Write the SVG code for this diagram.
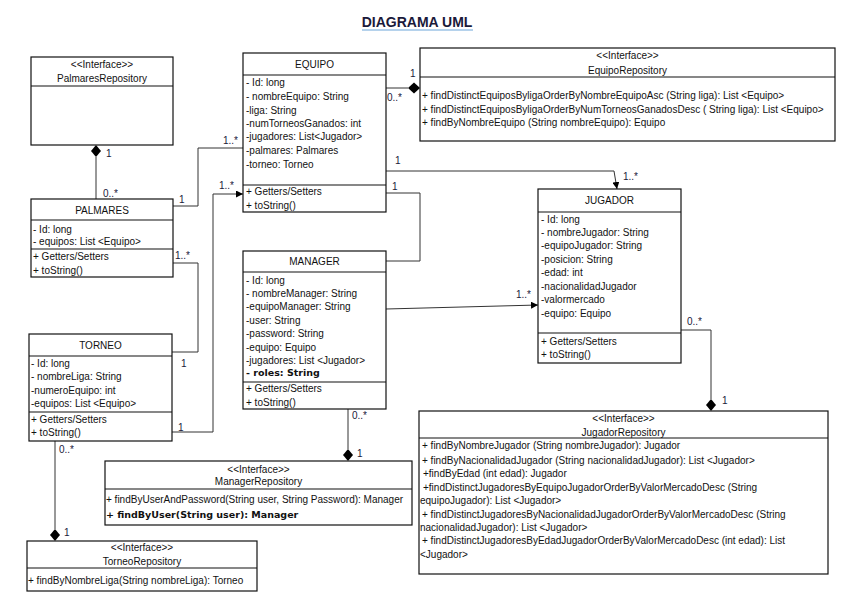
<svg xmlns="http://www.w3.org/2000/svg" width="847" height="599" viewBox="0 0 847 599">
<style>
text{font-family:"Liberation Sans",Arial,sans-serif;font-size:10px;fill:#111}
.c{text-anchor:middle}
.b{font-family:"DejaVu Sans",sans-serif;font-weight:bold;font-size:9.5px}
.box{fill:#fff;stroke:#111;stroke-width:1.2}
.sep{stroke:#111;stroke-width:1.2}
.ln{fill:none;stroke:#333;stroke-width:1}
.dia{fill:#000}
.lab{font-size:10px;fill:#1a1a3a}
.title{font-size:14px;font-weight:bold;fill:#1a1a3a}
</style>
<defs>
<marker id="arr" viewBox="0 0 10 10" refX="10" refY="5" markerWidth="7" markerHeight="7" orient="auto" markerUnits="userSpaceOnUse">
<path d="M0,0 L10,5 L0,10 z" fill="#000"/>
</marker>
</defs>
<rect width="847" height="599" fill="#fff"/>
<text class="title c" x="417" y="27">DIAGRAMA UML</text>
<line x1="362" y1="30" x2="473" y2="30" stroke="#9dc3e6" stroke-width="1.5"/>

<g id="connectors">
<polyline class="ln" points="96,157 96,199"/>
<polygon class="dia" points="96,145 101,151 96,157 91,151"/>
<polyline class="ln" points="386,88 408,88"/>
<polygon class="dia" points="408,88 414,82.5 420,88 414,93.5"/>
<polyline class="ln" points="386,171 614,171 617,189" marker-end="url(#arr)"/>
<polyline class="ln" points="386,193 420,193 420,261 386,261"/>
<polyline class="ln" points="386,309 538,305" marker-end="url(#arr)"/>
<polyline class="ln" points="681,330 711,330 711,399"/>
<polygon class="dia" points="711,399 716,405 711,411 706,405"/>
<polyline class="ln" points="173,206 198,206 198,148 243,148"/>
<polyline class="ln" points="172,432 213,432 213,194 243,194" marker-end="url(#arr)"/>
<polyline class="ln" points="173,263 198,263 198,352 172,352"/>
<polyline class="ln" points="55,441 55,529"/>
<polygon class="dia" points="55,529 60,535 55,541 50,535"/>
<polyline class="ln" points="348,409 348,449"/>
<polygon class="dia" points="348,449 353,455 348,461 343,455"/>
<text class="lab" x="106" y="157">1</text>
<text class="lab" x="103" y="197">0..*</text>
<text class="lab" x="410" y="77">1</text>
<text class="lab" x="387" y="101">0..*</text>
<text class="lab" x="395" y="164">1</text>
<text class="lab" x="623" y="180">1..*</text>
<text class="lab" x="392" y="190">1</text>
<text class="lab" x="223" y="144">1..*</text>
<text class="lab" x="179" y="203">1</text>
<text class="lab" x="219" y="188.5">1..*</text>
<text class="lab" x="175" y="259">1..*</text>
<text class="lab" x="181" y="367">1</text>
<text class="lab" x="178" y="431">1</text>
<text class="lab" x="516" y="298">1..*</text>
<text class="lab" x="687" y="325">0..*</text>
<text class="lab" x="722" y="404">1</text>
<text class="lab" x="352" y="419">0..*</text>
<text class="lab" x="357" y="457">1</text>
<text class="lab" x="59" y="452.5">0..*</text>
<text class="lab" x="64" y="536">1</text>
</g>

<g id="PalmaresRepository">
<rect class="box" x="31" y="57" width="142" height="88"/>
<line class="sep" x1="31" y1="86" x2="173" y2="86"/>
<text class="c" x="102" y="67.5">&lt;&lt;Interface&gt;&gt;</text>
<text class="c" x="102" y="81.5">PalmaresRepository</text>
</g>

<g id="EQUIPO">
<rect class="box" x="243" y="53" width="143" height="159"/>
<line class="sep" x1="243" y1="75" x2="386" y2="75"/>
<line class="sep" x1="243" y1="185" x2="386" y2="185"/>
<text class="c" x="314.5" y="68">EQUIPO</text>
<text x="246" y="86">- Id: long</text>
<text x="246" y="100">- nombreEquipo: String</text>
<text x="246" y="113.5">-liga: String</text>
<text x="246" y="127">-numTorneosGanados: int</text>
<text x="246" y="140">-jugadores: List&lt;Jugador&gt;</text>
<text x="246" y="154">-palmares: Palmares</text>
<text x="246" y="168">-torneo: Torneo</text>
<text x="246" y="195">+ Getters/Setters</text>
<text x="246" y="208.5">+ toString()</text>
</g>

<g id="EquipoRepository">
<rect class="box" x="420" y="48" width="415" height="93"/>
<line class="sep" x1="420" y1="77" x2="835" y2="77"/>
<text class="c" x="627.5" y="59">&lt;&lt;Interface&gt;&gt;</text>
<text class="c" x="627.5" y="73.5">EquipoRepository</text>
<text x="422" y="99">+ findDistinctEquiposByligaOrderByNombreEquipoAsc (String liga): List &lt;Equipo&gt;</text>
<text x="422" y="113">+ findDistinctEquiposByligaOrderByNumTorneosGanadosDesc ( String liga): List &lt;Equipo&gt;</text>
<text x="422" y="126">+ findByNombreEquipo (String nombreEquipo): Equipo</text>
</g>

<g id="PALMARES">
<rect class="box" x="31" y="199" width="142" height="78"/>
<line class="sep" x1="31" y1="220" x2="173" y2="220"/>
<line class="sep" x1="31" y1="249" x2="173" y2="249"/>
<text class="c" x="102" y="214">PALMARES</text>
<text x="33" y="232.5">- Id: long</text>
<text x="33" y="245">- equipos: List &lt;Equipo&gt;</text>
<text x="33" y="260">+ Getters/Setters</text>
<text x="33" y="273.5">+ toString()</text>
</g>

<g id="MANAGER">
<rect class="box" x="243" y="251" width="143" height="158"/>
<line class="sep" x1="243" y1="272" x2="386" y2="272"/>
<line class="sep" x1="243" y1="382" x2="386" y2="382"/>
<text class="c" x="314.5" y="264.5">MANAGER</text>
<text x="246" y="283.5">- Id: long</text>
<text x="246" y="297">- nombreManager: String</text>
<text x="246" y="310">-equipoManager: String</text>
<text x="246" y="324">-user: String</text>
<text x="246" y="337">-password: String</text>
<text x="246" y="351">-equipo: Equipo</text>
<text x="246" y="364">-jugadores: List &lt;Jugador&gt;</text>
<text class="b" x="246" y="376">- roles: String</text>
<text x="246" y="392">+ Getters/Setters</text>
<text x="246" y="406">+ toString()</text>
</g>

<g id="JUGADOR">
<rect class="box" x="538" y="189" width="143" height="174"/>
<line class="sep" x1="538" y1="212" x2="681" y2="212"/>
<line class="sep" x1="538" y1="333" x2="681" y2="333"/>
<text class="c" x="609.5" y="204">JUGADOR</text>
<text x="541" y="222.5">- Id: long</text>
<text x="541" y="236">- nombreJugador: String</text>
<text x="541" y="249">-equipoJugador: String</text>
<text x="541" y="263">-posicion: String</text>
<text x="541" y="276">-edad: int</text>
<text x="541" y="290">-nacionalidadJugador</text>
<text x="541" y="303">-valormercado</text>
<text x="541" y="317">-equipo: Equipo</text>
<text x="541" y="345">+ Getters/Setters</text>
<text x="541" y="358">+ toString()</text>
</g>

<g id="TORNEO">
<rect class="box" x="29" y="334" width="143" height="107"/>
<line class="sep" x1="29" y1="356" x2="172" y2="356"/>
<line class="sep" x1="29" y1="412" x2="172" y2="412"/>
<text class="c" x="100.5" y="349">TORNEO</text>
<text x="31" y="367">- Id: long</text>
<text x="31" y="380">- nombreLiga: String</text>
<text x="31" y="394">-numeroEquipo: int</text>
<text x="31" y="407">-equipos: List &lt;Equipo&gt;</text>
<text x="31" y="423">+ Getters/Setters</text>
<text x="31" y="436">+ toString()</text>
</g>

<g id="JugadorRepository">
<rect class="box" x="419" y="411" width="409" height="163"/>
<line class="sep" x1="419" y1="438" x2="828" y2="438"/>
<text class="c" x="623.5" y="422">&lt;&lt;Interface&gt;&gt;</text>
<text class="c" x="623.5" y="436">JugadorRepository</text>
<text x="422" y="448.5">+ findByNombreJugador (String nombreJugador): Jugador</text>
<text x="422" y="463.5">+ findByNacionalidadJugador (String nacionalidadJugador): List &lt;Jugador&gt;</text>
<text x="423" y="477">+findByEdad (int edad): Jugador</text>
<text x="423" y="491">+findDistinctJugadoresByEquipoJugadorOrderByValorMercadoDesc (String</text>
<text x="420" y="503.5">equipoJugador): List &lt;Jugador&gt;</text>
<text x="422" y="517.5">+ findDistinctJugadoresByNacionalidadJugadorOrderByValorMercadoDesc (String</text>
<text x="420" y="531">nacionalidadJugador): List &lt;Jugador&gt;</text>
<text x="422" y="544">+ findDistinctJugadoresByEdadJugadorOrderByValorMercadoDesc (int edad): List</text>
<text x="420" y="557.5">&lt;Jugador&gt;</text>
</g>

<g id="ManagerRepository">
<rect class="box" x="105" y="461" width="307" height="64"/>
<line class="sep" x1="105" y1="489" x2="412" y2="489"/>
<text class="c" x="258.5" y="473">&lt;&lt;Interface&gt;&gt;</text>
<text class="c" x="258.5" y="485">ManagerRepository</text>
<text x="106" y="503">+ findByUserAndPassword(String user, String Password): Manager</text>
<text class="b" x="106" y="518">+ findByUser(String user): Manager</text>
</g>

<g id="TorneoRepository">
<rect class="box" x="27" y="541" width="230" height="50"/>
<line class="sep" x1="27" y1="568" x2="257" y2="568"/>
<text class="c" x="142" y="551">&lt;&lt;Interface&gt;&gt;</text>
<text class="c" x="142" y="565">TorneoRepository</text>
<text x="28" y="583.5">+ findByNombreLiga(String nombreLiga): Torneo</text>
</g>
</svg>
